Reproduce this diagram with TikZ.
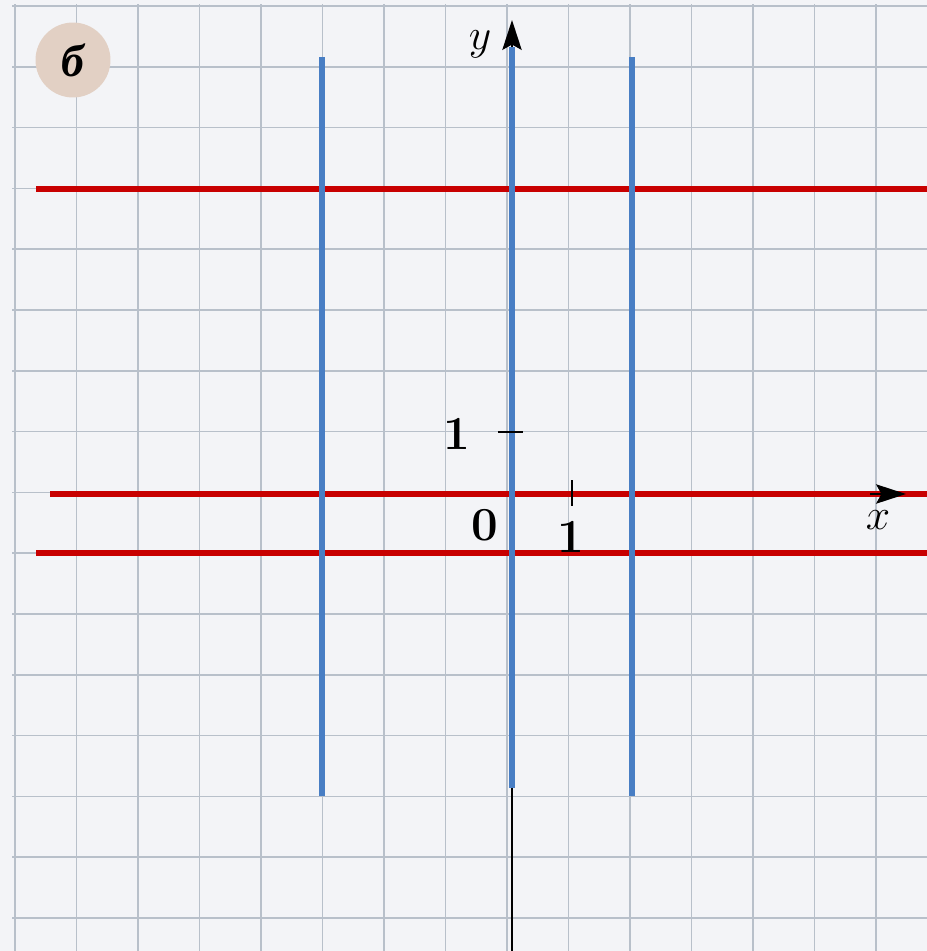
\documentclass[tikz,border=0pt]{standalone}
\usepackage{fontspec}
\newfontfamily\cyrfont{Liberation Serif}
\usetikzlibrary{arrows.meta}
\definecolor{paper}{RGB}{243,244,247}
\definecolor{gridc}{RGB}{184,192,202}
\definecolor{redl}{RGB}{200,0,0}
\definecolor{bluel}{RGB}{72,126,196}
\definecolor{badge}{RGB}{226,208,196}
\tikzset{
  gridline/.style={gridc, line width=0.9pt},
  axisline/.style={black, line width=1.1pt, -{Stealth[length=17pt,width=11pt,inset=3pt]}},
  redline/.style={redl, line width=2.9pt},
  blueline/.style={bluel, line width=2.9pt},
  ticklab/.style={font=\fontsize{27}{30}\selectfont\bfseries, inner sep=0pt},
  axlab/.style={font=\fontsize{32}{34}\selectfont, inner sep=0pt},
  tickmark/.style={black, line width=1.1pt},
}
\begin{document}
\begin{tikzpicture}[x={(0.02cm,0)}, y={(0,-0.02cm)}]
\useasboundingbox (0,0) rectangle (927,951);
\fill[paper] (0,0) rectangle (927,951);
% grid
\foreach \i in {0,...,15} {
  \draw[gridline] ({15+61.5*\i},4) -- ({15+61.5*\i},951);
}
\foreach \j in {0,...,15} {
  \draw[gridline] (12,{6+60.8*\j}) -- (927,{6+60.8*\j});
}
% coordinates
\coordinate (ybot) at (512,951);
\coordinate (ytop) at (512,20);
\coordinate (xleft) at (50,494);
\coordinate (xright) at (906,494);
% axes
\draw[axisline] (ybot) -- (ytop);
% red lines
\coordinate (r1a) at (36,189); \coordinate (r1b) at (927,189);
\coordinate (r2a) at (50,494); \coordinate (r2b) at (927,494);
\coordinate (r3a) at (36,553); \coordinate (r3b) at (927,553);
\draw[redline] (r1a) -- (r1b);
\draw[redline] (r2a) -- (r2b);
\draw[redline] (r3a) -- (r3b);
% blue lines
\coordinate (b1a) at (322,57); \coordinate (b1b) at (322,796);
\coordinate (b2a) at (512,47); \coordinate (b2b) at (512,788);
\coordinate (b3a) at (632,57); \coordinate (b3b) at (632,796);
\draw[blueline] (b1a) -- (b1b);
\draw[blueline] (b2a) -- (b2b);
\draw[blueline] (b3a) -- (b3b);
% arrow head of x axis over red line
\coordinate (xarr) at (870,494);
\draw[axisline] (xarr) -- (xright);
% ticks
\coordinate (ty1) at (498,432); \coordinate (ty2) at (523,432);
\draw[tickmark] (ty1) -- (ty2);
\coordinate (tx1) at (572,480); \coordinate (tx2) at (572,506);
\draw[tickmark] (tx1) -- (tx2);
% labels
\node[ticklab] (one_y) at (457,434) {1};
\node[ticklab] (one_x) at (571,537) {1};
\node[ticklab] (zero) at (485,525) {0};
\node[axlab] (ylab) at (480,44) {$y$};
\node[axlab] (xlab) at (878,520) {$x$};
% badge
\node[circle, fill=badge, minimum size=1.5cm, inner sep=0pt,
      font=\cyrfont\bfseries\itshape\fontsize{26}{28}\selectfont] (badge) at (73,60) {б};
\end{tikzpicture}
\end{document}
